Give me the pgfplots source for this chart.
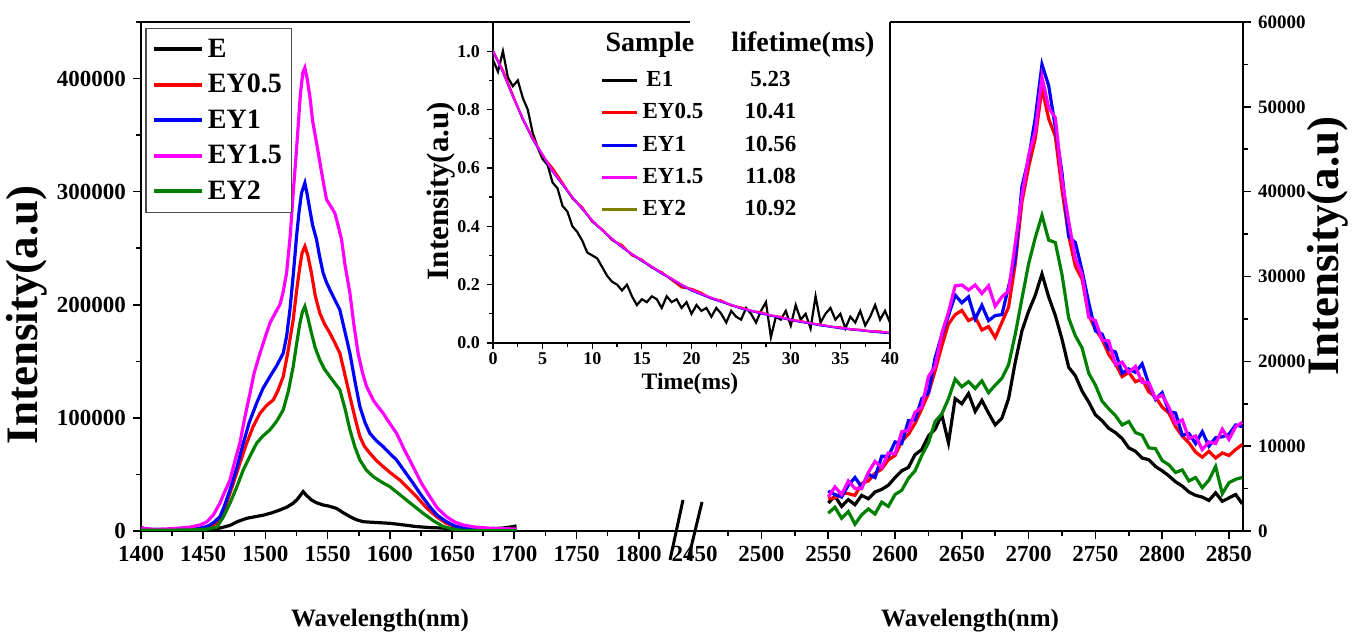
\documentclass[border=0pt]{standalone}
\usepackage{fontspec}
\setmainfont{Liberation Serif}
\usepackage{pgfplots}
\pgfplotsset{compat=1.18}

\definecolor{cE}{RGB}{0,0,0}
\definecolor{cR}{RGB}{255,0,0}
\definecolor{cB}{RGB}{0,0,255}
\definecolor{cM}{RGB}{255,0,255}
\definecolor{cG}{RGB}{0,128,0}
\definecolor{cO}{RGB}{128,128,0}

\newcommand{\fs}[1]{\fontsize{#1}{#1}\selectfont\bfseries}

\pgfplotsset{
  spec/.style={
    scale only axis, height=254.5pt, ymin=0,
    tick align=outside,
    axis line style={-, line width=0.8pt},
    every tick/.style={black, line width=0.8pt},
    major tick length=4pt, minor tick length=2.5pt,
    /pgf/number format/fixed,
    /pgf/number format/assume math mode=true,
    /pgf/number format/1000 sep={},
    scaled ticks=false,
    ticklabel style={font=\fs{11.5}},
  },
}

\begin{document}
\begin{tikzpicture}

% ---------- left part: 1400-1800 nm ----------
\begin{axis}[spec, at={(70.5pt,53pt)}, anchor=south west, width=272.5pt,
  xmin=1400, xmax=1838, ymax=450000,
  axis x line*=bottom, axis y line*=left,
  xtick={1400,1450,...,1800}, minor xtick={1425,1475,...,1775},
  ytick={0,100000,...,400000}, minor ytick={50000,150000,...,450000},
  legend style={at={(axis description cs:0.008,0.988)}, anchor=north west,
    draw=black!70, line width=0.6pt, fill=white, font=\fs{14},
    inner sep=3pt, row sep=3pt},
  legend cell align=left,
  legend image code/.code={\draw[#1, line width=2pt] (0pt,0pt) -- (24pt,0pt);},
]
\addplot[cE, line width=1.6pt] coordinates {
(1400,3000)(1405,1500)(1415,800)(1430,500)(1445,300)(1458,1500)(1465,3000)(1471.5,5000)
(1478,8500)(1484.9,11200)(1491,12500)(1498.3,14000)(1505,16000)(1511.6,18600)(1517,21000)
(1522.3,24500)(1526,28500)(1530.3,34800)(1533,31500)(1537,27400)(1541,25000)(1546.4,23000)
(1551,22000)(1557.1,20000)(1562,16500)(1567.9,12700)(1573,10000)(1578.6,8200)(1589,7500)
(1600,6800)(1610,5500)(1621.4,3900)(1632,3000)(1642.8,2600)(1650,1800)(1659,1000)(1670,1200)
(1680,2000)(1690,2500)(1697,3500)(1701.8,4500)};
\addlegendentry{E}
\addplot[cR, line width=1.6pt] coordinates {
(1400,1200)(1420,1000)(1440,1500)(1452,2500)(1458,5000)(1463.5,9700)(1468,22000)(1474.2,42200)
(1479.5,60000)(1484.9,77600)(1490,92000)(1495.6,104100)(1501,111000)(1506.3,115900)(1510,124000)
(1514.3,136500)(1518,158000)(1522.3,186700)(1525,212000)(1527.7,233900)(1529.5,246000)(1531.7,251600)
(1534,244000)(1537,228000)(1540,208000)(1543.7,192600)(1547.5,183000)(1551.8,175000)(1555.5,167000)
(1559.8,157200)(1563.5,140000)(1567.9,118800)(1572,100000)(1575.9,83400)(1579.5,75000)(1583.9,68800)
(1589,62500)(1594.6,56900)(1601,51000)(1608,45100)(1614.5,38000)(1621.4,30400)(1629,21000)
(1637.5,12700)(1645,7000)(1653.6,3300)(1665,1500)(1680,1000)(1701.8,800)};
\addlegendentry{EY0.5}
\addplot[cB, line width=1.6pt] coordinates {
(1400,1500)(1420,1200)(1440,1800)(1450,3000)(1455,5000)(1459,8000)(1463.5,12700)(1467,22000)
(1471.5,36300)(1477,56000)(1482.2,77600)(1487,96000)(1492.9,113000)(1498,126000)(1503.6,136500)
(1509,146000)(1514.3,157200)(1517,172000)(1519.7,195600)(1522.5,228000)(1525,260400)(1527,282000)
(1529,298800)(1531.7,307700)(1533.5,298000)(1535.7,284000)(1538,270000)(1541.1,257500)(1543.5,243000)
(1546.4,228000)(1549,220000)(1551.8,213300)(1555.5,205000)(1559.8,195600)(1563.5,178000)(1567.9,157200)
(1572,132000)(1575.9,110000)(1580,96000)(1583.9,86400)(1589,80000)(1594.6,74600)(1600,68500)
(1605.4,62800)(1612,52500)(1618.7,42200)(1625,32000)(1632.1,21500)(1638,14000)(1645.5,8200)
(1652,4500)(1658.9,2600)(1670,1500)(1685,1000)(1701.8,800)};
\addlegendentry{EY1}
\addplot[cM, line width=1.6pt] coordinates {
(1400,2500)(1410,1500)(1420,1800)(1430,2500)(1440,3500)(1448,5500)(1453,8200)(1458,14000)
(1463.5,24700)(1467,34000)(1471.5,45000)(1475,60000)(1479.5,77900)(1483,98000)(1487.6,121800)
(1491,140000)(1495.6,157000)(1500,172000)(1503.6,183800)(1508,193000)(1511.6,200000)(1514,210000)
(1517,228000)(1520,262000)(1522.3,298800)(1524.5,330000)(1526.3,357800)(1528,385000)(1530,405000)
(1531.7,409500)(1533.5,400000)(1535.7,384300)(1538,362000)(1541.1,343000)(1545,318000)(1549.1,293000)
(1552,288000)(1555.8,281000)(1558,272000)(1561.2,257500)(1564,235000)(1567.9,210300)(1571,183000)
(1574.5,157000)(1578,140000)(1581.3,127700)(1587,115000)(1594.6,104100)(1600,95000)(1605.4,86400)
(1612,71000)(1618.7,56900)(1625,43000)(1632.1,30400)(1638,20500)(1645.5,12700)(1652,8000)
(1658.9,5300)(1668,3500)(1680,2500)(1690,2000)(1701.8,1800)};
\addlegendentry{EY1.5}
\addplot[cG, line width=1.6pt] coordinates {
(1400,800)(1420,600)(1440,1000)(1452,1500)(1460.8,3300)(1466,12000)(1471.5,24500)(1477,39000)
(1482.2,54000)(1487.5,66000)(1492.9,77600)(1498,84000)(1503.6,89400)(1509,97000)(1514.3,107100)
(1518.5,124000)(1522.3,145400)(1525,165000)(1527.7,183800)(1529.7,193500)(1531.7,198500)(1534,189000)
(1537,175000)(1540,162000)(1543.7,151300)(1547.5,143000)(1551.8,136500)(1555.5,131000)(1559.8,124800)
(1564,108000)(1567.9,89400)(1572,74000)(1575.9,62800)(1581,54000)(1586.6,48100)(1593,43500)
(1600,39200)(1606.5,33500)(1613.3,27400)(1620,21500)(1626.7,15700)(1635,9000)(1642.8,4000)
(1650,1800)(1658.9,500)(1675,300)(1701.8,300)};
\addlegendentry{EY2}
\end{axis}

% ---------- right part: 2450-2860 nm ----------
\begin{axis}[spec, at={(343pt,53pt)}, anchor=south west, width=278.5pt,
  xmin=2443.5, xmax=2860.5, ymax=60000,
  axis x line*=bottom, axis y line*=right,
  xtick={2450,2500,...,2850}, minor xtick={2475,2525,...,2825},
  ytick={0,10000,...,60000}, minor ytick={5000,15000,...,55000},
  yticklabel style={font=\fs{9.5}},
]
\addplot[cE, line width=1.6pt] coordinates {
(2550,3300)(2555,4100)(2560,2900)(2565,3700)(2570,3100)(2575,4200)(2580,3800)(2585,4600)
(2590,4900)(2595,5400)(2600,6300)(2605,7100)(2610,7500)(2615,9000)(2620,9600)(2625,11200)
(2630,12000)(2635,13700)(2640,10400)(2645,15600)(2650,15000)(2655,16200)(2660,14100)(2665,15400)
(2670,13900)(2675,12500)(2680,13300)(2685,15600)(2690,19900)(2695,23600)(2700,25900)(2705,27800)
(2710,30300)(2715,27600)(2720,25400)(2725,22600)(2730,19300)(2735,18300)(2740,16500)(2745,15200)
(2750,13700)(2755,13000)(2760,12100)(2765,11600)(2770,10900)(2775,9800)(2780,9400)(2785,8600)
(2790,8400)(2795,7600)(2800,7100)(2805,6500)(2810,5800)(2815,5300)(2820,4600)(2825,4200)
(2830,4000)(2835,3600)(2840,4500)(2845,3500)(2850,3900)(2855,4300)(2860,3200)};
\addplot[cR, line width=1.6pt] coordinates {
(2550,3800)(2555,3900)(2560,4500)(2565,4400)(2570,4200)(2575,5600)(2580,5900)(2585,6800)
(2590,7300)(2595,8400)(2600,8900)(2605,10600)(2610,11400)(2615,12700)(2620,14400)(2625,16200)
(2630,18900)(2635,21800)(2640,24400)(2645,25500)(2650,26000)(2655,24800)(2660,25200)(2665,23700)
(2670,24100)(2675,22800)(2680,24600)(2685,26400)(2690,31500)(2695,38800)(2700,42900)(2705,46300)
(2710,52200)(2715,48600)(2720,46500)(2725,40200)(2730,34800)(2735,31200)(2740,29700)(2745,25400)
(2750,23800)(2755,22600)(2760,20800)(2765,19700)(2770,18200)(2775,18700)(2780,17600)(2785,17900)
(2790,16400)(2795,15800)(2800,14600)(2805,13900)(2810,12300)(2815,11200)(2820,10400)(2825,9300)
(2830,8700)(2835,9400)(2840,8600)(2845,9200)(2850,8900)(2855,9600)(2860,10200)};
\addplot[cB, line width=1.6pt] coordinates {
(2550,4700)(2555,4300)(2560,4000)(2565,5400)(2570,6300)(2575,5200)(2580,6700)(2585,6300)
(2590,8800)(2595,8800)(2600,10500)(2605,10300)(2610,13000)(2615,13100)(2620,15600)(2625,16300)
(2630,20400)(2635,23100)(2640,25400)(2645,27800)(2650,26900)(2655,27600)(2660,25000)(2665,26600)
(2670,24800)(2675,25400)(2680,25500)(2685,28800)(2690,32100)(2695,40600)(2700,43900)(2705,48700)
(2710,55000)(2715,52500)(2720,47600)(2725,42200)(2730,34700)(2735,34000)(2740,30700)(2745,26900)
(2750,23600)(2755,23200)(2760,21400)(2765,21100)(2770,18600)(2775,19100)(2780,18700)(2785,19700)
(2790,17300)(2795,15500)(2800,16300)(2805,14100)(2810,13900)(2815,11300)(2820,11500)(2825,10300)
(2830,11700)(2835,10000)(2840,11000)(2845,11100)(2850,11400)(2855,12500)(2860,12300)};
\addplot[cM, line width=1.6pt] coordinates {
(2550,4000)(2555,5200)(2560,4300)(2565,5900)(2570,5000)(2575,5000)(2580,6900)(2585,8200)
(2590,7500)(2595,9200)(2600,9100)(2605,11700)(2610,11900)(2615,14000)(2620,14600)(2625,18200)
(2630,19400)(2635,23300)(2640,25800)(2645,28900)(2650,29000)(2655,28400)(2660,29000)(2665,28000)
(2670,28900)(2675,26500)(2680,27600)(2685,28300)(2690,33900)(2695,39500)(2700,44300)(2705,47100)
(2710,53500)(2715,49900)(2720,48700)(2725,41400)(2730,36500)(2735,32100)(2740,30200)(2745,25200)
(2750,24800)(2755,22500)(2760,22400)(2765,19600)(2770,19900)(2775,18700)(2780,19400)(2785,17500)
(2790,17500)(2795,15600)(2800,16000)(2805,14600)(2810,12700)(2815,13100)(2820,10900)(2825,11200)
(2830,9600)(2835,10500)(2840,10300)(2845,12000)(2850,10800)(2855,12300)(2860,12800)};
\addplot[cG, line width=1.6pt] coordinates {
(2550,2100)(2555,2800)(2560,1500)(2565,2300)(2570,800)(2575,1900)(2580,2600)(2585,2000)
(2590,3400)(2595,2900)(2600,4300)(2605,4800)(2610,6200)(2615,7100)(2620,8900)(2625,10400)
(2630,12900)(2635,13800)(2640,15600)(2645,17900)(2650,17000)(2655,17600)(2660,16800)(2665,17700)
(2670,16300)(2675,17200)(2680,18000)(2685,19600)(2690,23200)(2695,27400)(2700,31500)(2705,34600)
(2710,37200)(2715,34300)(2720,34000)(2725,30200)(2730,25100)(2735,23000)(2740,21600)(2745,18600)
(2750,17200)(2755,15300)(2760,14400)(2765,13600)(2770,12500)(2775,12900)(2780,11600)(2785,11300)
(2790,9800)(2795,9700)(2800,8300)(2805,7800)(2810,6900)(2815,7200)(2820,5900)(2825,6300)
(2830,5100)(2835,6000)(2840,7600)(2845,4400)(2850,5700)(2855,6100)(2860,6300)};
\end{axis}

% top frame line and axis break
\draw[line width=0.8pt] (70.5pt,307.5pt) -- (621.5pt,307.5pt);
\draw[line width=1.5pt] (335pt,38.5pt) -- (341.5pt,68.5pt);
\draw[line width=1.5pt] (344pt,38.5pt) -- (351pt,67.5pt);

% axis titles
\node[rotate=90, font=\fs{22.5}] at (13.4pt,161pt) {Intensity(a.u)};
\node[rotate=90, font=\fs{22.5}] at (664pt,195.5pt) {Intensity(a.u)};
\node[font=\fs{12.5}] at (190pt,8pt) {Wavelength(nm)};
\node[font=\fs{12.5}] at (485pt,8pt) {Wavelength(nm)};

% ---------- inset: decay curves ----------
\fill[white] (246.5pt,147pt) rectangle (445pt,308.5pt);
\begin{axis}[at={(246.5pt,147pt)}, anchor=south west, scale only axis,
  width=198.5pt, height=160.5pt,
  xmin=0, xmax=40, ymin=0, ymax=1.1,
  axis x line*=bottom, axis y line*=left,
  axis line style={-, line width=0.6pt},
  every tick/.style={black, line width=0.6pt},
  tick align=outside, major tick length=3pt, minor tick length=1.8pt,
  xtick={0,5,...,40}, minor xtick={2.5,7.5,...,37.5},
  ytick={0,0.2,0.4,0.6,0.8,1.0}, minor ytick={0.1,0.3,0.5,0.7,0.9},
  /pgf/number format/fixed,
  /pgf/number format/assume math mode=true,
  ticklabel style={font=\fs{9}},
  xticklabel style={inner sep=1.5pt},
  yticklabel style={/pgf/number format/fixed zerofill,
    /pgf/number format/precision=1},
  legend style={at={(axis description cs:0.27,0.86)}, anchor=north west,
    draw=none, fill=none, font=\fs{11.5}, inner sep=0pt, row sep=3pt},
  legend cell align=left,
  legend image code/.code={\draw[#1, line width=1.5pt] (0pt,0pt) -- (17.5pt,0pt);},
]
\addplot[cO, line width=1pt, forget plot] coordinates {
(0,1.0)(1,0.93)(2,0.845)(3,0.77)(4,0.70)(5,0.645)(6,0.59)(7,0.545)(8,0.50)(9,0.46)(10,0.42)
(11,0.387)(12,0.357)(13,0.330)(14,0.305)(15,0.283)(16,0.262)(17,0.240)(18,0.220)(19,0.200)(20,0.182)
(21,0.168)(22,0.155)(23,0.143)(24,0.131)(25,0.120)(26,0.111)(27,0.103)(28,0.095)(29,0.088)(30,0.080)
(31,0.074)(32,0.068)(33,0.062)(34,0.057)(35,0.052)(36,0.048)(37,0.044)(38,0.041)(39,0.038)(40,0.035)};
\addplot[cE, line width=1.1pt] coordinates {
(0,0.97)(0.5,0.93)(1,1.0)(1.5,0.91)(2,0.88)(2.5,0.90)(3,0.84)(3.5,0.80)(4,0.72)(4.5,0.67)
(5,0.63)(5.5,0.61)(6,0.55)(6.5,0.53)(7,0.47)(7.5,0.45)(8,0.40)(8.5,0.38)(9,0.35)(9.5,0.31)
(10,0.30)(10.5,0.29)(11,0.26)(11.5,0.23)(12,0.21)(12.5,0.20)(13,0.18)(13.5,0.20)(14,0.16)(14.5,0.13)
(15,0.15)(15.5,0.14)(16,0.16)(16.5,0.15)(17,0.12)(17.5,0.16)(18,0.14)(18.5,0.15)(19,0.12)(19.5,0.14)
(20,0.10)(20.5,0.13)(21,0.11)(21.5,0.12)(22,0.09)(22.5,0.12)(23,0.10)(23.5,0.07)(24,0.11)(24.5,0.09)
(25,0.08)(25.5,0.12)(26,0.10)(26.5,0.07)(27,0.11)(27.5,0.14)(28,0.02)(28.5,0.09)(29,0.08)(29.5,0.11)
(30,0.06)(30.5,0.13)(31,0.08)(31.5,0.10)(32,0.05)(32.5,0.16)(33,0.07)(33.5,0.10)(34,0.12)(34.5,0.08)
(35,0.10)(35.5,0.05)(36,0.09)(36.5,0.07)(37,0.11)(37.5,0.06)(38,0.09)(38.5,0.13)(39,0.08)(39.5,0.11)
(40,0.07)};
\addlegendentry{\makebox[44pt][l]{\,E1}\makebox[40pt][c]{5.23}}
\addplot[cR, line width=1pt] coordinates {
(0,1.0)(1,0.935)(2,0.85)(3,0.765)(4,0.705)(5,0.64)(6,0.60)(7,0.55)(8,0.495)(9,0.465)(10,0.415)
(11,0.39)(12,0.352)(13,0.336)(14,0.30)(15,0.286)(16,0.258)(17,0.243)(18,0.216)(19,0.19)(20,0.186)
(21,0.172)(22,0.152)(23,0.146)(24,0.128)(25,0.122)(26,0.109)(27,0.106)(28,0.093)(29,0.09)(30,0.077)
(31,0.076)(32,0.066)(33,0.064)(34,0.055)(35,0.054)(36,0.046)(37,0.046)(38,0.039)(39,0.04)(40,0.033)};
\addlegendentry{\makebox[44pt][l]{EY0.5}\makebox[40pt][c]{10.41}}
\addplot[cB, line width=1pt] coordinates {
(0,1.0)(1,0.928)(2,0.846)(3,0.768)(4,0.698)(5,0.643)(6,0.588)(7,0.543)(8,0.498)(9,0.459)(10,0.418)
(11,0.386)(12,0.355)(13,0.328)(14,0.304)(15,0.281)(16,0.260)(17,0.238)(18,0.219)(19,0.198)(20,0.180)
(21,0.166)(22,0.153)(23,0.141)(24,0.130)(25,0.118)(26,0.110)(27,0.101)(28,0.094)(29,0.086)(30,0.079)
(31,0.072)(32,0.067)(33,0.060)(34,0.056)(35,0.050)(36,0.047)(37,0.043)(38,0.040)(39,0.036)(40,0.034)};
\addlegendentry{\makebox[44pt][l]{EY1}\makebox[40pt][c]{10.56}}
\addplot[cM, line width=1pt] coordinates {
(0,1.0)(1,0.93)(2,0.845)(3,0.77)(4,0.70)(5,0.645)(6,0.59)(7,0.545)(8,0.50)(9,0.46)(10,0.42)
(11,0.387)(12,0.357)(13,0.330)(14,0.305)(15,0.283)(16,0.262)(17,0.240)(18,0.220)(19,0.200)(20,0.182)
(21,0.168)(22,0.155)(23,0.143)(24,0.131)(25,0.120)(26,0.111)(27,0.103)(28,0.095)(29,0.088)(30,0.080)
(31,0.074)(32,0.068)(33,0.062)(34,0.057)(35,0.052)(36,0.048)(37,0.044)(38,0.041)(39,0.038)(40,0.035)};
\addlegendentry{\makebox[44pt][l]{EY1.5}\makebox[40pt][c]{11.08}}
\addlegendimage{cO, line width=1pt}
\addlegendentry{\makebox[44pt][l]{EY2}\makebox[40pt][c]{10.92}}
\end{axis}

% inset frame pieces, header and titles
\draw[line width=1.2pt] (246.5pt,307.5pt) -- (345pt,307.5pt);
\draw[line width=0.6pt] (445pt,147pt) -- (445pt,307.5pt);
\node[font=\fs{14}] at (325pt,296pt) {Sample};
\node[font=\fs{14}] at (401.5pt,296pt) {lifetime(ms)};
\node[rotate=90, font=\fs{15.5}] at (220.5pt,223pt) {Intensity(a.u)};
\node[font=\fs{11.8}, inner sep=0pt] at (345pt,126.5pt) {Time(ms)};

\pgfresetboundingbox
\path[use as bounding box] (0,0) rectangle (677pt,318.5pt);
\end{tikzpicture}
\end{document}
